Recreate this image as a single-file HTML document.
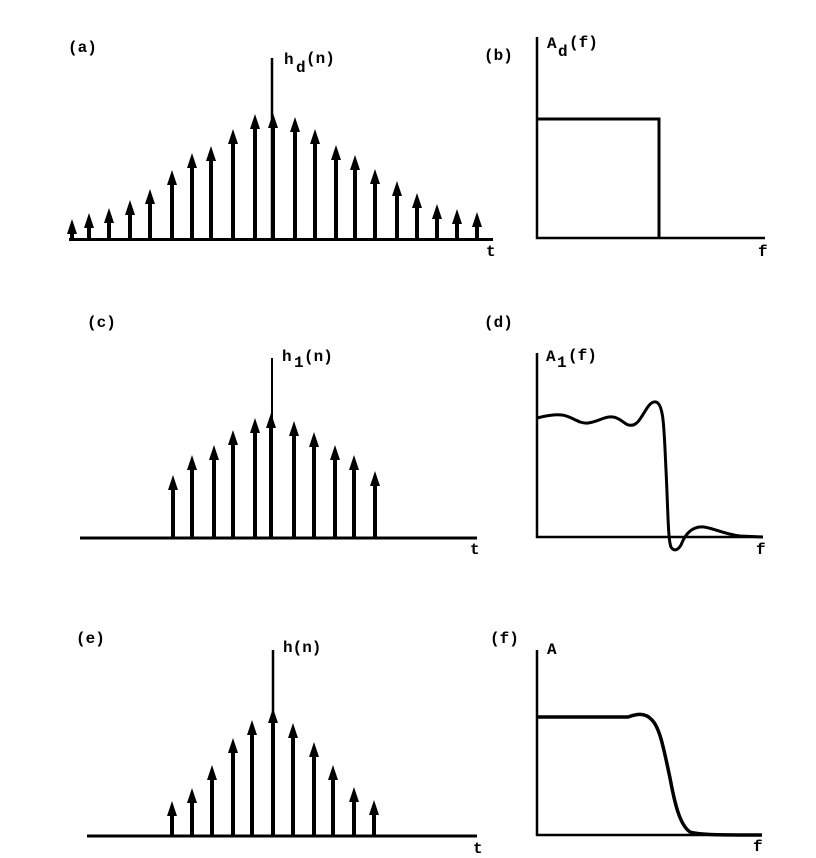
<!DOCTYPE html>
<html><head><meta charset="utf-8"><style>
html,body{margin:0;padding:0;background:#fff;}
svg{display:block}
text{font-family:"Liberation Mono",monospace;font-size:16px;font-weight:bold;fill:#000}
</style></head><body>
<svg id="s" width="816" height="858" viewBox="0 0 816 858" xmlns="http://www.w3.org/2000/svg">
<g stroke="#000" stroke-width="3" fill="none">
<line x1="69" y1="239.5" x2="493" y2="239.5"/>
<line x1="272" y1="58" x2="272" y2="239" stroke-width="2.5"/>
<line x1="80" y1="538" x2="477" y2="538"/>
<line x1="272" y1="358" x2="272" y2="538" stroke-width="2"/>
<line x1="87" y1="836" x2="477" y2="836"/>
<line x1="273" y1="650" x2="273" y2="836" stroke-width="2.5"/>
<polyline points="537,37 537,238 765,238" stroke-width="2.5"/>
<polyline points="537,119 659,119 659,238" stroke-width="3"/>
<polyline points="537,353 537,537 763,537" stroke-width="2.5"/>
<path d="M537,418 C548,415 555,414 562,415 C572,416 578,424 588,423 C598,422 604,416 613,417 C622,418 625,427 633,425 C642,423 647,400 656,402 C664,404 664,430 666,470 C668,510 668,540 671,547 C674,552 678,550 681,545 C686,532 694,526 704,527 C716,529 724,534 740,536 L763,537" stroke-width="3"/>
<polyline points="537,650 537,835 762,835" stroke-width="2.5"/>
<path d="M537,717 L628,717 C636,714 645,712 652,720 C660,728 664,750 670,778 C675,805 680,825 690,832 C700,835 720,835 762,835" stroke-width="3.5"/>
</g>
<g id="arrows"></g>
<text x="68" y="52">(a)</text>
<text x="284" y="64">h</text><text x="296" y="72">d</text><text x="306" y="63">(n)</text>
<text x="486" y="256">t</text>
<text x="484" y="60">(b)</text>
<text x="547" y="48">A</text><text x="558" y="56">d</text><text x="569" y="47">(f)</text>
<text x="758" y="256">f</text>
<text x="87" y="327">(c)</text>
<text x="282" y="361">h</text><text x="294" y="367">1</text><text x="304" y="361">(n)</text>
<text x="470" y="554">t</text>
<text x="484" y="327">(d)</text>
<text x="546" y="361">A</text><text x="557" y="367">1</text><text x="568" y="360">(f)</text>
<text x="756" y="554">f</text>
<text x="76" y="643">(e)</text>
<text x="283" y="652">h(n)</text>
<text x="473" y="853">t</text>
<text x="490" y="643">(f)</text>
<text x="547" y="654">A</text>
<text x="753" y="851">f</text>
</svg>
<script>
var g=document.getElementById('arrows'),ns='http://www.w3.org/2000/svg';
function arr(x,tip,base){
 var l=document.createElementNS(ns,'line');
 l.setAttribute('x1',x);l.setAttribute('x2',x);l.setAttribute('y1',tip+8);l.setAttribute('y2',base);
 l.setAttribute('stroke','#000');l.setAttribute('stroke-width','4');g.appendChild(l);
 var p=document.createElementNS(ns,'polygon');
 p.setAttribute('points',(x-5)+','+(tip+15)+' '+x+','+tip+' '+(x+5)+','+(tip+15));
 p.setAttribute('fill','#000');g.appendChild(p);
}
var A=[[72,219],[89,213],[109,208],[130,200],[150,189],[172,170],[192,153],[211,146],[233,129],[255,114],[273,113],[295,117],[315,129],[336,145],[355,155],[375,169],[397,181],[417,193],[437,204],[457,209],[477,212]];
A.forEach(function(a){arr(a[0],a[1],239);});
var C=[[173,475],[192,455],[214,445],[233,430],[255,418],[271,413],[294,421],[314,432],[335,445],[354,455],[375,471]];
C.forEach(function(a){arr(a[0],a[1],537);});
var E=[[172,801],[192,788],[212,765],[233,738],[252,720],[273,708],[293,723],[314,742],[333,765],[354,787],[374,800]];
E.forEach(function(a){arr(a[0],a[1],835);});
</script>
</body></html>
